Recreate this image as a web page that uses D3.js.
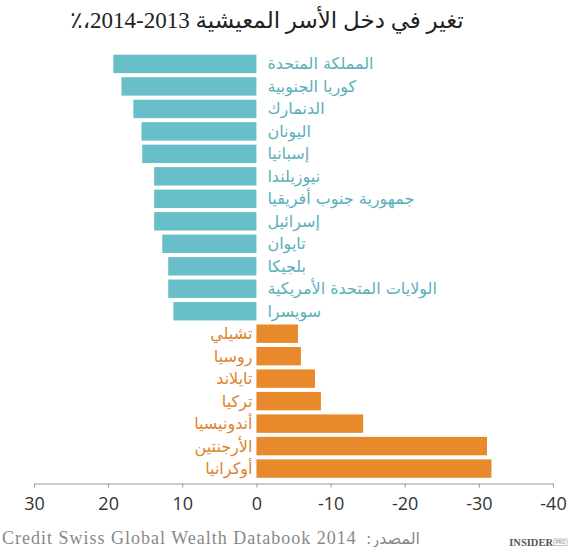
<!DOCTYPE html>
<html>
<head>
<meta charset="utf-8">
<script src="https://cdn.jsdelivr.net/npm/d3@7"></script>
<style>
  body { margin: 0; background: #fff; }
  svg { display: block; }
</style>
</head>
<body>
<div id="chart"></div>
<script>
/* DATA */
const countries = [
    "المملكة المتحدة", "كوريا الجنوبية", "الدنمارك", "اليونان", "إسبانيا",
    "نيوزيلندا", "جمهورية جنوب أفريقيا", "إسرائيل", "تايوان", "بلجيكا",
    "الولايات المتحدة الأمريكية", "سويسرا",
    "تشيلي", "روسيا", "تايلاند", "تركيا", "أندونيسيا", "الأرجنتين", "أوكرانيا"
];
const values = [
    19.3, 18.2, 16.6, 15.5, 15.4, 13.8, 13.8, 13.8, 12.7, 11.9, 11.9, 11.2,
    -5.6, -6.0, -7.9, -8.7, -14.4, -31.1, -31.7
];
const tickValues = [30, 20, 10, 0, -10, -20, -30, -40];

const titleText = "تغير في دخل الأسر المعيشية 2013\u200F-2014\u060C\u066A";
const sourceLatin = "Credit Swiss Global Wealth Databook 2014";
const sourceArabic = "المصدر:";

/* CONFIGURATION */
const config = {
    width: 572,
    height: 547,
    xRange: [34, 553],
    yRange: [52.7, 479.8],
    axisY: 483.5
};
const TEAL = "#68bfc9";
const TEAL_TEXT = "#5aafba";
const ORANGE = "#e8892b";
const ORANGE_TEXT = "#dc842c";

const data = countries.map((name, i) => ({ name, value: values[i] }));

const svg = d3.select("#chart")
    .append("svg")
    .attr("width", config.width)
    .attr("height", config.height);

// scales: positive values grow to the left
const x = d3.scaleLinear()
    .domain([30, -40])
    .range(config.xRange);

const y = d3.scaleBand()
    .domain(countries)
    .range(config.yRange)
    .paddingInner(0.18)
    .paddingOuter(0.09);

// title
svg.append("text")
    .attr("x", 267)
    .attr("y", 28)
    .attr("direction", "rtl")
    .attr("text-anchor", "middle")
    .style("font-family", "'Liberation Serif', 'DejaVu Sans', serif")
    .style("font-size", "23px")
    .style("fill", "#222")
    .text(titleText);

// bars
svg.selectAll(".bar")
    .data(data)
    .enter()
    .append("rect")
    .attr("class", "bar")
    .attr("x", d => Math.min(x(d.value), x(0)))
    .attr("y", d => y(d.name))
    .attr("width", d => Math.abs(x(d.value) - x(0)))
    .attr("height", y.bandwidth())
    .attr("fill", d => d.value >= 0 ? TEAL : ORANGE);

// country labels on the opposite side of zero
svg.selectAll(".label")
    .data(data)
    .enter()
    .append("text")
    .attr("class", "label")
    .attr("x", d => d.value >= 0 ? x(0) + 11 : x(0) - 4)
    .attr("y", d => y(d.name) + y.bandwidth() / 2)
    .attr("dominant-baseline", "central")
    .attr("text-anchor", d => d.value >= 0 ? "start" : "end")
    .style("font-family", "'DejaVu Sans', sans-serif")
    .style("font-size", "16px")
    .style("fill", d => d.value >= 0 ? TEAL_TEXT : ORANGE_TEXT)
    .text(d => d.name);

// x axis
const axis = svg.append("g")
    .attr("transform", `translate(0,${config.axisY})`)
    .call(d3.axisBottom(x)
        .tickValues(tickValues)
        .tickSize(4)
        .tickSizeOuter(0)
        .tickPadding(10)
        .tickFormat(d => String(d)));

axis.select(".domain").attr("stroke", "#999");
axis.selectAll(".tick line").attr("stroke", "#999");
axis.selectAll(".tick text")
    .style("font-family", "'Open Sans', sans-serif")
    .style("font-size", "18px")
    .style("fill", "#333");

// source line: latin part, then arabic label on its right
svg.append("text")
    .attr("x", 2)
    .attr("y", 544)
    .style("font-family", "'Liberation Serif', serif")
    .style("font-size", "18px")
    .style("letter-spacing", "1px")
    .style("fill", "#888")
    .text(sourceLatin);

const srcAr = svg.append("text")
    .attr("y", 544)
    .attr("direction", "rtl")
    .attr("text-anchor", "middle")
    .style("font-family", "'DejaVu Sans', sans-serif")
    .style("font-size", "16px")
    .style("fill", "#888")
    .text(sourceArabic);
const arW = srcAr.node().getComputedTextLength();
srcAr.attr("x", 420 - arW / 2);

// logo
const logo = svg.append("g")
    .attr("transform", "translate(553,546)");
logo.append("text")
    .attr("x", 0)
    .attr("y", 0)
    .attr("text-anchor", "end")
    .style("font-family", "'Liberation Serif', serif")
    .style("font-weight", "bold")
    .style("font-size", "10.5px")
    .style("fill", "#555")
    .text("INSIDER");
logo.append("rect")
    .attr("x", 1)
    .attr("y", -7)
    .attr("width", 13)
    .attr("height", 6.5)
    .attr("fill", "none")
    .attr("stroke", "#999")
    .attr("stroke-width", 0.6);
logo.append("text")
    .attr("x", 7.5)
    .attr("y", -2.2)
    .attr("text-anchor", "middle")
    .style("font-family", "'Liberation Sans', sans-serif")
    .style("font-size", "4.5px")
    .style("fill", "#777")
    .text("PRO");
</script>
</body>
</html>
